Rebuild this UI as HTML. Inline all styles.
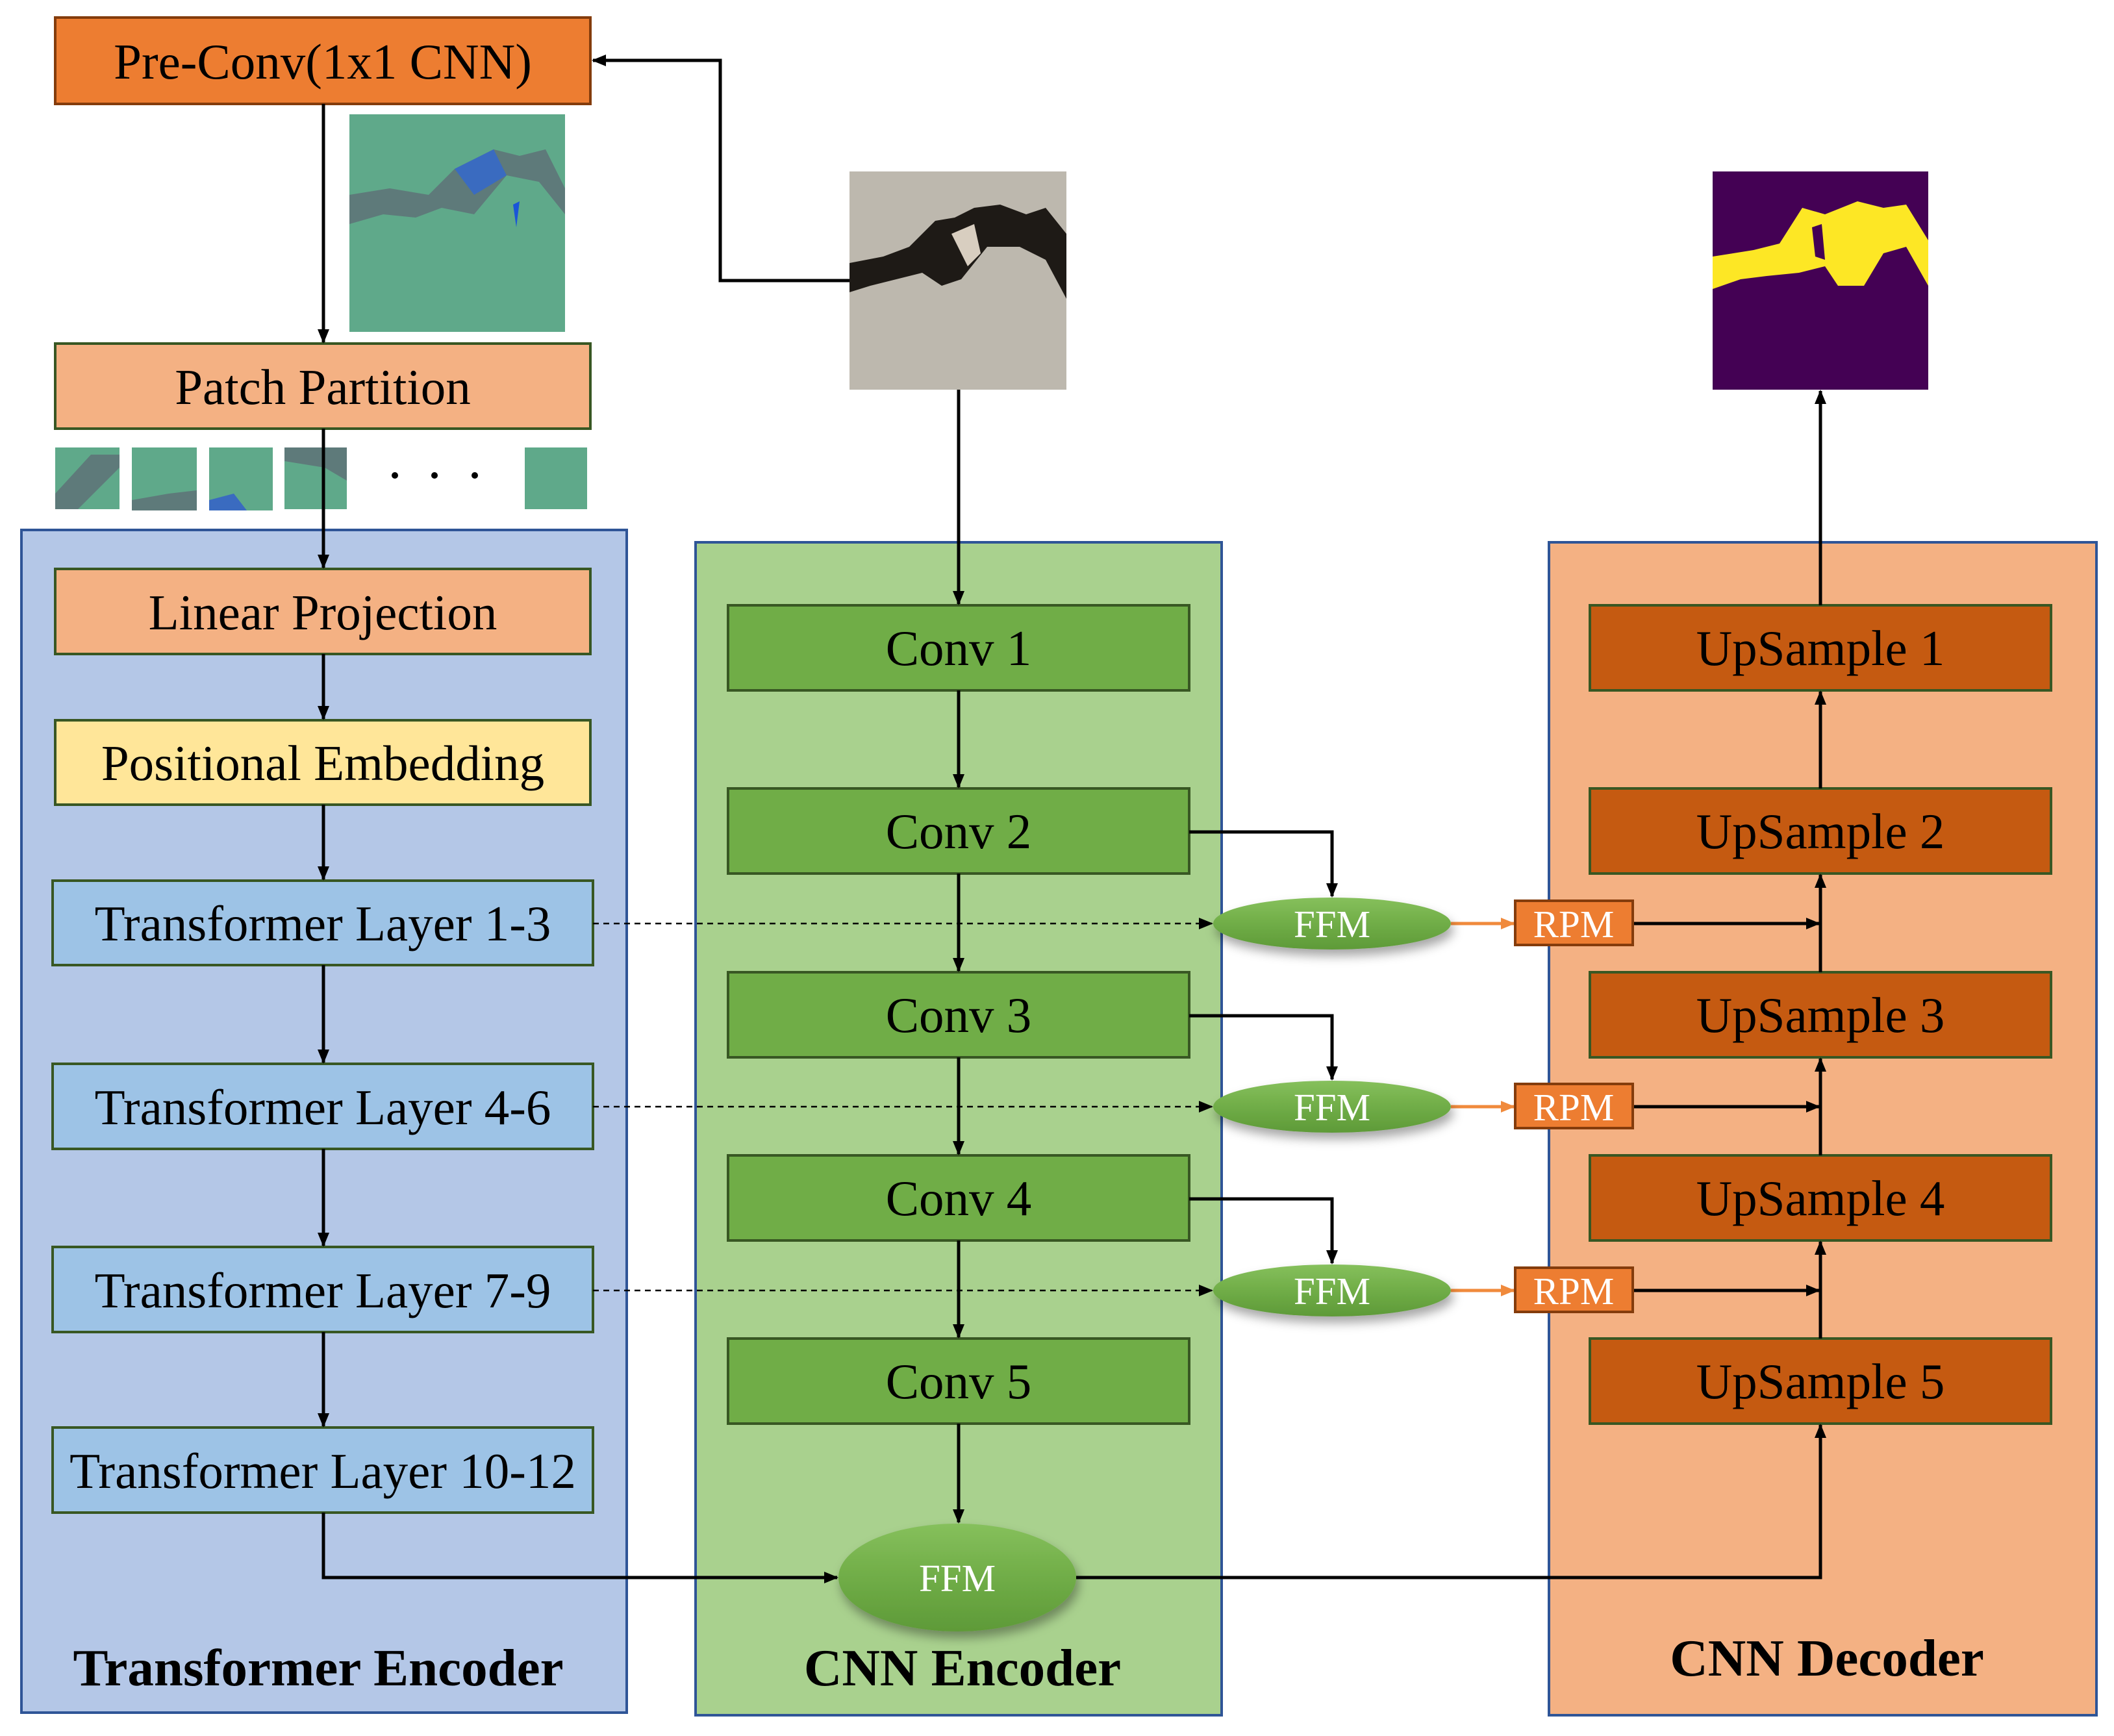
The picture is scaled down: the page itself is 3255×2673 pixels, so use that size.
<!DOCTYPE html>
<html><head><meta charset="utf-8"><style>
html,body{margin:0;padding:0;background:#fff;}
svg{display:block;}
text{font-family:"Liberation Serif",serif;}
</style></head><body>
<svg width="3255" height="2673" viewBox="0 0 3255 2673" xmlns="http://www.w3.org/2000/svg">
<defs>
<marker id="ab" markerWidth="22" markerHeight="18" refX="20" refY="9" orient="auto" markerUnits="userSpaceOnUse"><path d="M0,0 L22,9 L0,18z" fill="#000"/></marker>
<marker id="ao" markerWidth="22" markerHeight="18" refX="20" refY="9" orient="auto" markerUnits="userSpaceOnUse"><path d="M0,0 L22,9 L0,18z" fill="#F08A3C"/></marker>
<linearGradient id="g" x1="0" y1="0" x2="0" y2="1"><stop offset="0" stop-color="#86C05C"/><stop offset="0.5" stop-color="#70AD47"/><stop offset="1" stop-color="#5E9A38"/></linearGradient>
<filter id="sh" x="-20%" y="-20%" width="140%" height="160%"><feDropShadow dx="4" dy="10" stdDeviation="8" flood-color="#000" flood-opacity="0.35"/></filter>
</defs>

<rect x="33" y="816" width="932" height="1821" fill="#B4C7E7" stroke="#2F5597" stroke-width="4"/>
<rect x="1071" y="835" width="810" height="1806" fill="#A9D18E" stroke="#2F5597" stroke-width="4"/>
<rect x="2385" y="835" width="843" height="1806" fill="#F4B183" stroke="#2F5597" stroke-width="4"/>

<g stroke-width="4">
<rect x="85" y="27" width="824" height="133" fill="#ED7D31" stroke="#843C0C"/>
<rect x="85" y="529" width="824" height="131" fill="#F4B183" stroke="#385723"/>
<rect x="85" y="876" width="824" height="131" fill="#F4B183" stroke="#385723"/>
<rect x="85" y="1109" width="824" height="130" fill="#FFE699" stroke="#385723"/>
<rect x="81" y="1356" width="832" height="130" fill="#9DC3E6" stroke="#385723"/>
<rect x="81" y="1638" width="832" height="131" fill="#9DC3E6" stroke="#385723"/>
<rect x="81" y="1920" width="832" height="131" fill="#9DC3E6" stroke="#385723"/>
<rect x="81" y="2198" width="832" height="131" fill="#9DC3E6" stroke="#385723"/>
</g>
<g font-size="77" text-anchor="middle" fill="#000">
<text x="497" y="121">Pre-Conv(1x1 CNN)</text>
<text x="497" y="622">Patch Partition</text>
<text x="497" y="969">Linear Projection</text>
<text x="497" y="1201">Positional Embedding</text>
<text x="497" y="1448">Transformer Layer 1-3</text>
<text x="497" y="1731">Transformer Layer 4-6</text>
<text x="497" y="2013">Transformer Layer 7-9</text>
<text x="497" y="2291">Transformer Layer 10-12</text>
</g>

<rect x="538" y="176" width="332" height="335" fill="#5FA98A"/>
<path d="M538,300 L600,290 L660,300 L700,260 L760,230 L800,240 L840,230 L870,290 L870,330 L830,280 L780,270 L730,330 L680,320 L640,335 L590,330 L538,345z" fill="#5E7A7A"/>
<path d="M700,260 L760,230 L780,270 L730,300z" fill="#3A6BC0"/>
<path d="M790,315 L800,310 L795,350z" fill="#1A55D8"/>
<rect x="85" y="689" width="99" height="95" fill="#5FA98A"/><path d="M85,760 L140,700 L184,700 L184,720 L120,784 L85,784z" fill="#5E7A7A"/>
<rect x="203" y="689" width="100" height="97" fill="#5FA98A"/><path d="M203,770 L260,760 L303,755 L303,786 L203,786z" fill="#5E7A7A"/>
<rect x="322" y="689" width="98" height="97" fill="#5FA98A"/><path d="M322,770 L360,760 L380,786 L322,786z" fill="#3A6BC0"/>
<rect x="438" y="689" width="96" height="95" fill="#5FA98A"/><path d="M438,689 L534,689 L534,740 L500,720 L438,710z" fill="#5E7A7A"/>
<rect x="808" y="689" width="96" height="95" fill="#5FA98A"/>
<circle cx="608" cy="732" r="5" fill="#000"/><circle cx="669" cy="732" r="5" fill="#000"/><circle cx="731" cy="732" r="5" fill="#000"/>

<rect x="1308" y="264" width="334" height="336" fill="#BDB8AE"/>
<path d="M1308,405 L1360,395 L1400,380 L1440,340 L1470,335 L1500,320 L1540,315 L1580,330 L1610,320 L1642,360 L1642,460 L1610,400 L1570,380 L1520,380 L1480,430 L1450,440 L1420,420 L1380,430 L1340,440 L1308,450z" fill="#1E1A16"/>
<path d="M1465,360 L1500,345 L1510,390 L1490,410z" fill="#D8CEC0"/>

<rect x="2637" y="264" width="332" height="336" fill="#440154"/>
<path d="M2637,395 L2700,385 L2740,375 L2775,320 L2810,330 L2860,310 L2900,320 L2935,315 L2969,370 L2969,440 L2935,380 L2900,390 L2870,440 L2830,440 L2810,410 L2770,420 L2720,425 L2680,430 L2637,445z" fill="#FDE725"/>
<path d="M2790,350 L2805,345 L2810,400 L2795,395z" fill="#440154"/>

<g fill="#70AD47" stroke="#385723" stroke-width="4">
<rect x="1121" y="932" width="710" height="131"/>
<rect x="1121" y="1214" width="710" height="131"/>
<rect x="1121" y="1497" width="710" height="131"/>
<rect x="1121" y="1779" width="710" height="131"/>
<rect x="1121" y="2061" width="710" height="131"/>
</g>
<g font-size="77" text-anchor="middle">
<text x="1476" y="1024">Conv 1</text>
<text x="1476" y="1306">Conv 2</text>
<text x="1476" y="1589">Conv 3</text>
<text x="1476" y="1871">Conv 4</text>
<text x="1476" y="2153">Conv 5</text>
</g>

<g fill="#C55A11" stroke="#385723" stroke-width="4">
<rect x="2448" y="932" width="710" height="131"/>
<rect x="2448" y="1214" width="710" height="131"/>
<rect x="2448" y="1497" width="710" height="131"/>
<rect x="2448" y="1779" width="710" height="131"/>
<rect x="2448" y="2061" width="710" height="131"/>
</g>
<g font-size="77" text-anchor="middle">
<text x="2803" y="1024">UpSample 1</text>
<text x="2803" y="1306">UpSample 2</text>
<text x="2803" y="1589">UpSample 3</text>
<text x="2803" y="1871">UpSample 4</text>
<text x="2803" y="2153">UpSample 5</text>
</g>

<g stroke="#000" stroke-width="5" fill="none" marker-end="url(#ab)">
<path d="M1308,432 L1109,432 L1109,93 L913,93"/>
<path d="M498,160 L498,527"/>
<path d="M498,660 L498,874"/>
<path d="M498,1007 L498,1107"/>
<path d="M498,1239 L498,1354"/>
<path d="M498,1486 L498,1636"/>
<path d="M498,1769 L498,1918"/>
<path d="M498,2051 L498,2196"/>
<path d="M498,2329 L498,2429 L1289,2429"/>
<path d="M1476,600 L1476,930"/>
<path d="M1476,1063 L1476,1212"/>
<path d="M1476,1345 L1476,1495"/>
<path d="M1476,1628 L1476,1777"/>
<path d="M1476,1910 L1476,2059"/>
<path d="M1476,2192 L1476,2344"/>
<path d="M1831,1281 L2051,1281 L2051,1380"/>
<path d="M1831,1564 L2051,1564 L2051,1662"/>
<path d="M1831,1846 L2051,1846 L2051,1945"/>
<path d="M2514,1422 L2801,1422"/>
<path d="M2514,1704 L2801,1704"/>
<path d="M2514,1987 L2801,1987"/>
<path d="M2803,1497 L2803,1347"/>
<path d="M2803,1779 L2803,1630"/>
<path d="M2803,2061 L2803,1912"/>
<path d="M2803,932 L2803,602"/>
<path d="M2803,1214 L2803,1065"/>
<path d="M1657,2429 L2803,2429 L2803,2194"/>
</g>
<g stroke="#000" stroke-width="2.5" stroke-dasharray="9,7" fill="none" marker-end="url(#ab)">
<path d="M913,1422 L1866,1422"/>
<path d="M913,1704 L1866,1704"/>
<path d="M913,1987 L1866,1987"/>
</g>
<g stroke="#F08A3C" stroke-width="5" fill="none" marker-end="url(#ao)">
<path d="M2234,1422 L2331,1422"/>
<path d="M2234,1704 L2331,1704"/>
<path d="M2234,1987 L2331,1987"/>
</g>

<g fill="url(#g)" filter="url(#sh)">
<ellipse cx="2051" cy="1422" rx="183" ry="40"/>
<ellipse cx="2051" cy="1704" rx="183" ry="40"/>
<ellipse cx="2051" cy="1987" rx="183" ry="40"/>
<ellipse cx="1474" cy="2429" rx="183" ry="83"/>
</g>
<g font-size="59" text-anchor="middle" fill="#fff">
<text x="2051" y="1443">FFM</text>
<text x="2051" y="1725">FFM</text>
<text x="2051" y="2008">FFM</text>
<text x="1474" y="2450">FFM</text>
</g>

<g fill="#ED7D31" stroke="#843C0C" stroke-width="4">
<rect x="2333" y="1387" width="181" height="68"/>
<rect x="2333" y="1669" width="181" height="68"/>
<rect x="2333" y="1952" width="181" height="68"/>
</g>
<g font-size="59" text-anchor="middle" fill="#fff">
<text x="2423" y="1443">RPM</text>
<text x="2423" y="1725">RPM</text>
<text x="2423" y="2008">RPM</text>
</g>

<g font-size="81" font-weight="bold" text-anchor="middle">
<text x="490" y="2595">Transformer Encoder</text>
<text x="1482" y="2595">CNN Encoder</text>
<text x="2813" y="2580">CNN Decoder</text>
</g>
</svg>
</body></html>
